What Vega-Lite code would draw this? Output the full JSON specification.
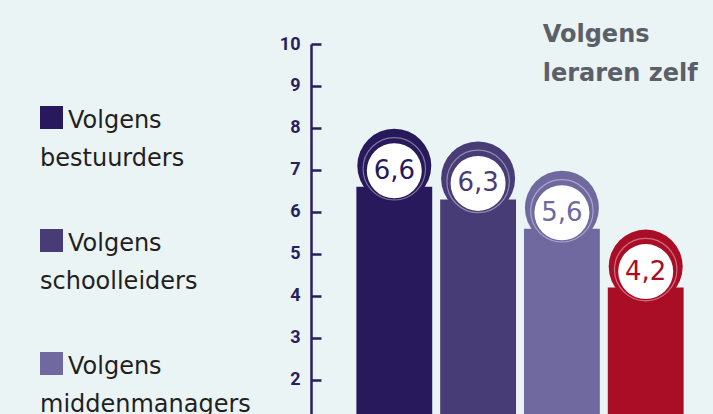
{
  "$schema": "https://vega.github.io/schema/vega-lite/v6.json",
  "background": "#ebf4f4",
  "padding": {"left": 40, "top": 23, "right": 20, "bottom": 0},
  "config": {"view": {"stroke": null}, "font": "DejaVu Sans"},
  "data": {
    "values": [
      {"groep": "Volgens bestuurders", "lijn1": "Volgens", "lijn2": "bestuurders", "waarde": 6.6, "label": "6,6"},
      {"groep": "Volgens schoolleiders", "lijn1": "Volgens", "lijn2": "schoolleiders", "waarde": 6.3, "label": "6,3"},
      {"groep": "Volgens middenmanagers", "lijn1": "Volgens", "lijn2": "middenmanagers", "waarde": 5.6, "label": "5,6"},
      {"groep": "Volgens leraren zelf", "lijn1": "Volgens", "lijn2": "leraren zelf", "waarde": 4.2, "label": "4,2"}
    ]
  },
  "bounds": "flush",
  "spacing": 68,
  "hconcat": [
    {
      "width": 240,
      "height": 371,
      "transform": [{"filter": "datum.groep !== 'Volgens leraren zelf'"}],
      "encoding": {
        "y": {
          "field": "groep",
          "type": "nominal",
          "scale": {"type": "point", "padding": 0, "domain": ["Volgens bestuurders", "Volgens schoolleiders", "Volgens middenmanagers"], "range": [84, 330]},
          "axis": null
        }
      },
      "layer": [
        {
          "mark": {"type": "point", "shape": "square", "filled": true, "size": 529, "opacity": 1, "yOffset": -10.5},
          "encoding": {
            "x": {"value": 11.5},
            "color": {
              "field": "groep", "type": "nominal", "legend": null,
              "scale": {"domain": ["Volgens bestuurders", "Volgens schoolleiders", "Volgens middenmanagers", "Volgens leraren zelf"], "range": ["#27195b", "#483c76", "#7069a0", "#a90e26"]}
            }
          }
        },
        {
          "mark": {"type": "text", "align": "left", "baseline": "alphabetic", "fontSize": 24, "color": "#231f20"},
          "encoding": {"x": {"value": 28}, "text": {"field": "lijn1"}}
        },
        {
          "mark": {"type": "text", "align": "left", "baseline": "alphabetic", "fontSize": 24, "color": "#231f20", "dy": 38},
          "encoding": {"x": {"value": 0}, "text": {"field": "lijn2"}}
        }
      ]
    },
    {
      "width": 344,
      "height": 371,
      "encoding": {
        "x": {
          "field": "groep", "type": "nominal", "axis": null,
          "scale": {"domain": ["Volgens bestuurders", "Volgens schoolleiders", "Volgens middenmanagers", "Volgens leraren zelf"], "paddingInner": 0.095, "paddingOuter": 0.1}
        },
        "y": {
          "field": "waarde", "type": "quantitative",
          "scale": {"domain": [1.166, 10], "nice": false, "zero": false},
          "axis": {
            "title": null, "values": [2, 3, 4, 5, 6, 7, 8, 9, 10], "offset": 37, "grid": false,
            "tickSize": -10, "labelPadding": 21, "domainColor": "#2b1e5e", "domainWidth": 2.5,
            "tickColor": "#2b1e5e", "tickWidth": 2.5, "labelColor": "#2b1e5e", "labelFont": "Roboto",
            "labelFontSize": 18, "labelFontWeight": "bold"
          }
        }
      },
      "layer": [
        {
          "mark": {"type": "bar", "clip": true},
          "encoding": {
            "color": {
              "field": "groep", "type": "nominal", "legend": null,
              "scale": {"domain": ["Volgens bestuurders", "Volgens schoolleiders", "Volgens middenmanagers", "Volgens leraren zelf"], "range": ["#27195b", "#483c76", "#7069a0", "#a90e26"]}
            }
          }
        },
        {
          "mark": {"type": "point", "filled": true, "size": 5476, "opacity": 1, "yOffset": -21},
          "encoding": {"color": {"field": "groep", "type": "nominal", "legend": null}}
        },
        {
          "mark": {"type": "point", "filled": true, "size": 3025, "opacity": 1, "color": "#ffffff", "yOffset": -16},
          "encoding": {}
        },
        {
          "mark": {"type": "point", "filled": false, "size": 3900, "color": "#ffffff", "strokeWidth": 1.2, "opacity": 0.4, "yOffset": -18},
          "encoding": {}
        },
        {
          "mark": {"type": "text", "fontSize": 26, "baseline": "middle", "align": "center", "yOffset": -16},
          "encoding": {
            "text": {"field": "label"},
            "color": {"field": "groep", "type": "nominal", "legend": null}
          }
        },
        {
          "transform": [{"filter": "datum.groep === 'Volgens leraren zelf'"}],
          "mark": {"type": "text", "align": "left", "baseline": "alphabetic", "fontSize": 24, "fontWeight": "bold", "color": "#5b6068", "dx": -103, "dy": -2},
          "encoding": {"y": {"datum": 10}, "text": {"field": "lijn1"}}
        },
        {
          "transform": [{"filter": "datum.groep === 'Volgens leraren zelf'"}],
          "mark": {"type": "text", "align": "left", "baseline": "alphabetic", "fontSize": 24, "fontWeight": "bold", "color": "#5b6068", "dx": -103, "dy": 37},
          "encoding": {"y": {"datum": 10}, "text": {"field": "lijn2"}}
        }
      ]
    }
  ]
}
